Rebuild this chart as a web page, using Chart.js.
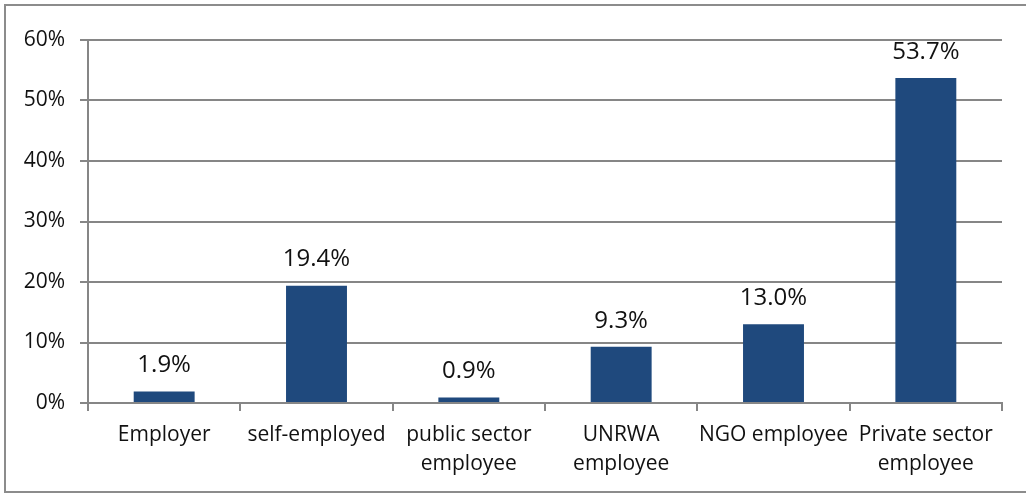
<!DOCTYPE html>
<html>
<head>
<meta charset="utf-8">
<script src="https://cdn.jsdelivr.net/npm/chart.js@4"></script>
<style>
  html, body { margin: 0; padding: 0; background: #fff; }
  #wrap { width: 1026px; height: 494px; }
</style>
</head>
<body>
<div id="wrap"><canvas id="jobChart" width="1026" height="494"></canvas></div>
<script>
const categories = [
  'Employer',
  'self-employed',
  ['public sector', 'employee'],
  ['UNRWA', 'employee'],
  'NGO employee',
  ['Private sector', 'employee']
];
const shares = [1.9, 19.4, 0.9, 9.3, 13.0, 53.7];
const yTicks = [0, 10, 20, 30, 40, 50, 60];

const gray = '#868686';
const font = "'Open Sans', 'Noto Sans', sans-serif";

// labels above each bar
const barLabels = {
  id: 'barLabels',
  afterDatasetsDraw(chart) {
    const ctx = chart.ctx;
    const meta = chart.getDatasetMeta(0);
    ctx.save();
    ctx.font = '24px ' + font;
    ctx.fillStyle = '#111';
    ctx.textAlign = 'center';
    ctx.textBaseline = 'bottom';
    meta.data.forEach((bar, i) => {
      ctx.fillText(shares[i].toFixed(1) + '%', bar.x, bar.y - 14);
    });
    ctx.restore();
  }
};

// outer frame like the document figure box
const frame = {
  id: 'frame',
  beforeDraw(chart) {
    const ctx = chart.ctx;
    ctx.save();
    ctx.strokeStyle = '#8c8c8c';
    ctx.lineWidth = 2;
    ctx.beginPath();
    ctx.moveTo(1030, 5);
    ctx.lineTo(5, 5);
    ctx.lineTo(5, 492);
    ctx.lineTo(1030, 492);
    ctx.stroke();
    ctx.restore();
  }
};

new Chart(document.getElementById('jobChart').getContext('2d'), {
  type: 'bar',
  data: {
    labels: categories,
    datasets: [{
      data: shares,
      backgroundColor: '#1F497D',
      categoryPercentage: 0.4,
      barPercentage: 1.0
    }]
  },
  plugins: [frame, barLabels],
  options: {
    responsive: false,
    animation: false,
    layout: { padding: { top: 40, right: 24, left: 0, bottom: 0 } },
    plugins: { legend: { display: false }, tooltip: { enabled: false } },
    scales: {
      x: {
        afterFit(scale) { scale.height = 91; },
        grid: {
          offset: true,
          drawOnChartArea: false,
          color: gray,
          lineWidth: 2,
          tickLength: 8
        },
        border: { color: gray, width: 2 },
        ticks: {
          color: '#111',
          font: { family: font, size: 21, lineHeight: 1.35 },
          padding: 10,
          maxRotation: 0,
          autoSkip: false
        }
      },
      y: {
        min: 0,
        max: 60,
        afterFit(scale) { scale.width = 88; },
        afterBuildTicks(scale) { scale.ticks = yTicks.map(v => ({ value: v })); },
        grid: { color: gray, lineWidth: 2, tickLength: 8 },
        border: { color: gray, width: 2 },
        ticks: {
          color: '#111',
          font: { family: font, size: 21 },
          padding: 15,
          callback: v => v + '%'
        }
      }
    }
  }
});
</script>
</body>
</html>
